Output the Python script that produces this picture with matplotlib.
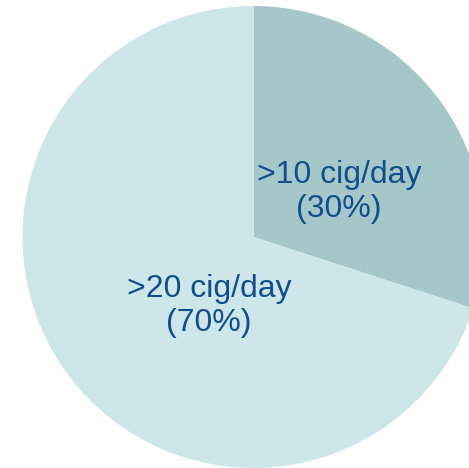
import matplotlib
matplotlib.use('Agg')
import matplotlib.pyplot as plt

# Cigarette consumption split
labels = ['>10 cig/day', '>20 cig/day']
shares = [30, 70]
colors = ['#A5C7CA', '#CDE6EA']

W, H = 469, 468
fig = plt.figure(figsize=(W / 100, H / 100), dpi=100)
ax = fig.add_axes([0, 0, 1, 1])

wedges, _ = ax.pie(shares, colors=colors, startangle=90, counterclock=False,
                   center=(253.5, H - 237), radius=231, frame=True)
ax.set_xlim(0, W)
ax.set_ylim(0, H)
ax.set_aspect('equal')
ax.axis('off')

text_pos = [(339, H - 192), (209, H - 306)]
for lab, val, (x, y) in zip(labels, shares, text_pos):
    ax.text(x, y, f'{lab}\n({val}%)', ha='center', va='center',
            fontsize=23, family='Liberation Sans', color='#114E8B',
            linespacing=1.17)

fig.savefig('out.png', dpi=100)
